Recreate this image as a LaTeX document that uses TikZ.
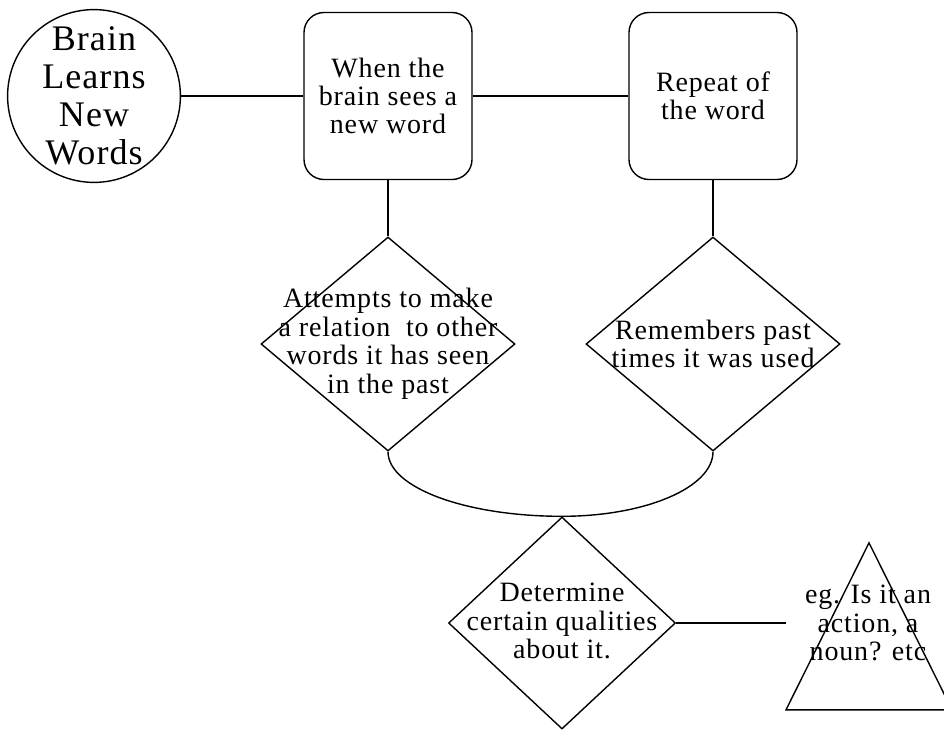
\documentclass[tikz,border=0pt]{standalone}
\usepackage{fontspec}
\setmainfont{Liberation Serif}[LetterSpace=3]
\usetikzlibrary{shapes.geometric}
\usetikzlibrary{positioning}

\tikzset{
  stepbox/.style={draw, rectangle, rounded corners=20pt, minimum width=168pt, minimum height=167pt, align=center, font=\fontsize{28}{28}\selectfont},
  decision/.style={draw, diamond, inner sep=0pt},
  caption/.style={align=center, inner sep=0pt, font=\fontsize{28}{28.5}\selectfont},
}

\begin{document}
\begin{tikzpicture}[x=1pt, y=-1pt, line width=1.4pt]
            \useasboundingbox (0,0) rectangle (944,729);
            % Top row
            \node[draw, circle, minimum size=168pt, inner sep=0pt, align=center, font=\fontsize{36}{38}\selectfont] (brain) at (94,96) {Brain\\Learns\\New\\Words};
            \node[stepbox] (seen) at (388,96) {When the\\brain sees a\\new word};
            \node[stepbox] (repeat) at (713,96) {Repeat of\\the word};
            
            % Decisions
            \node[decision, minimum width=254pt, minimum height=214pt] (relate) at (388,344) {};
            \node[caption] (relatetext) at (relate) {Attempts to make\\a relation\ \ to other\\words it has seen\\in the past};
            \node[decision, minimum width=254pt, minimum height=214pt] (remember) at (713,344) {};
            \node[caption] (remembertext) at (remember) {Remembers past\\times it was used};
            \node[decision, minimum width=227pt, minimum height=212pt] (determine) at (562,623) {};
            \node[caption] (determinetext) at (562,621) {Determine\\certain qualities\\about it.};
            
            % Example triangle
            \node[draw, isosceles triangle, shape border rotate=90, isosceles triangle stretches, minimum width=166pt, minimum height=167pt, inner sep=0pt, anchor=apex] (example) at (869,541) {};
            \node[caption] (exampletext) at (868,623) {eg. Is it an\\action, a\\noun? etc};
            \coordinate (exgap) at (786,623);
            
            \draw (brain) -- (seen);
            \draw (seen) -- (repeat);
            \draw (seen) -- (relate);
            \draw (repeat) -- (remember);
            \draw (relate.south) .. controls +(0,36) and +(-96,0) .. (determine.north);
            \draw (remember.south) .. controls +(0,36) and +(83,0) .. (determine.north);
            \draw (determine.east) -- (exgap);
        \end{tikzpicture}
\end{document}
